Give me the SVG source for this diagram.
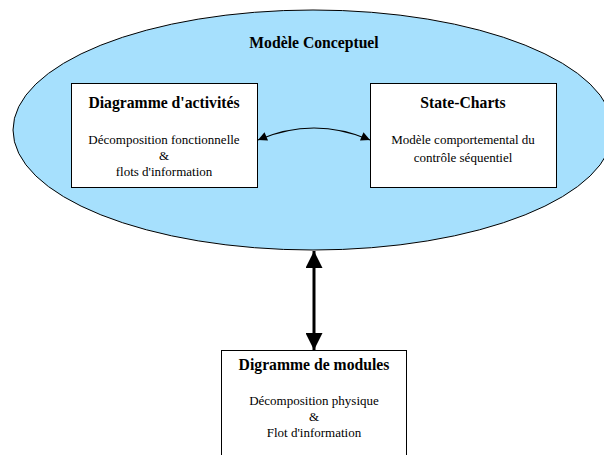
<svg xmlns="http://www.w3.org/2000/svg" width="604" height="455" viewBox="0 0 604 455">
  <style>
    .box { fill: #ffffff; stroke: #000000; stroke-width: 1; }
    text { font-family: 'Liberation Serif', 'Times New Roman', 'DejaVu Serif', serif; text-anchor: middle; fill: #000; }
    .title { font-size: 15.7px; font-weight: bold; }
    .body { font-size: 13px; }
    .link { fill: none; stroke: #000; }
  </style>
  <defs>
    <marker id="headSmall" viewBox="0 0 10 10" refX="10" refY="5" markerWidth="13" markerHeight="9" markerUnits="userSpaceOnUse" orient="auto-start-reverse">
      <path d="M0,0 L10,5 L0,10 z" fill="#000"/>
    </marker>
    <marker id="headBig" viewBox="0 0 10 10" refX="10" refY="5" markerWidth="24" markerHeight="17" markerUnits="userSpaceOnUse" orient="auto-start-reverse">
      <path d="M0,0 L10,5 L0,10 z" fill="#000"/>
    </marker>
  </defs>

  <g id="modele-conceptuel">
    <ellipse cx="313" cy="130" rx="300" ry="120" fill="#a6e0fd" stroke="#000" stroke-width="1"/>
    <text class="title" x="314" y="48">Modèle Conceptuel</text>
  </g>

  <g id="diagramme-activites">
    <rect class="box" x="71.5" y="83.5" width="186" height="104"/>
    <text class="title" x="164" y="108">Diagramme d'activités</text>
    <text class="body" x="164" y="144">Décomposition fonctionnelle</text>
    <text class="body" x="164" y="160">&amp;</text>
    <text class="body" x="164" y="176">flots d'information</text>
  </g>

  <g id="state-charts">
    <rect class="box" x="370.5" y="83.5" width="186" height="104"/>
    <text class="title" x="463" y="108">State-Charts</text>
    <text class="body" x="463" y="144">Modèle comportemental du</text>
    <text class="body" x="463" y="162">contrôle séquentiel</text>
  </g>

  <g id="diagramme-modules">
    <rect class="box" x="221.5" y="350.5" width="185" height="110"/>
    <text class="title" x="314" y="370">Digramme de modules</text>
    <text class="body" x="314" y="405">Décomposition physique</text>
    <text class="body" x="314" y="421">&amp;</text>
    <text class="body" x="314" y="437">Flot d'information</text>
  </g>

  <g id="connectors">
    <path class="link" stroke-width="1.2" d="M258,140 Q314,116 370,140" marker-start="url(#headSmall)" marker-end="url(#headSmall)"/>
    <line class="link" stroke-width="3" x1="314" y1="251" x2="314" y2="350" marker-start="url(#headBig)" marker-end="url(#headBig)"/>
  </g>
</svg>
